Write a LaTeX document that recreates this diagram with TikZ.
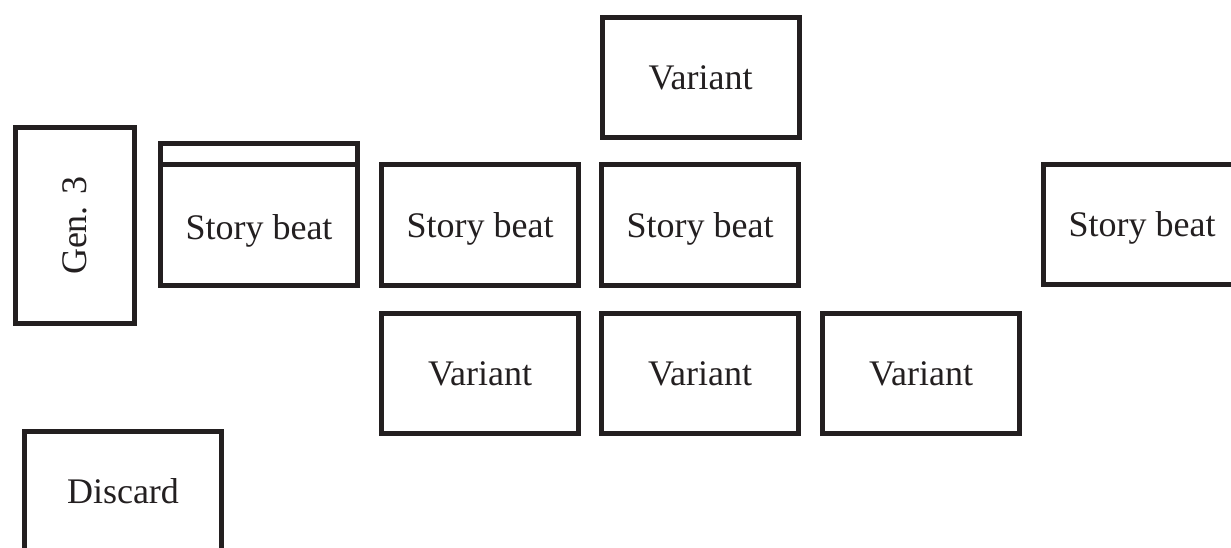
\documentclass[tikz,border=0pt]{standalone}
\usepackage{fontspec}
\setmainfont{Liberation Serif}
\definecolor{ink}{RGB}{35,31,32}
\begin{document}
\begin{tikzpicture}[x=1pt,y=-1pt,
  label text/.style={text=ink, font=\fontsize{36}{40}\selectfont, text depth=0pt},
  card/.style={draw=ink, line width=5pt, rectangle, inner sep=0pt,
    minimum width=197pt, minimum height=120pt, label text},
  tallcard/.style={card, minimum width=119pt, minimum height=196pt}]
\useasboundingbox (0,0) rectangle (1231,548);
\clip (0,0) rectangle (1231,548);

% generation label
\node[tallcard] (gen) at (75,225.5) {};
\node[rotate=90, label text, text depth=] (genlabel) at (gen.center) {Gen. 3};

% tabbed story beat
\node[card, minimum height=142pt] (sb1) at (259,214.5) {};
\draw[ink, line width=5pt] (sb1.west |- 0,165) -- (sb1.east |- 0,165);
\node[label text] (sb1label) at (259,227) {Story beat};

% middle row
\node[card] (sb2) at (480,225) {Story beat};
\node[card] (sb3) at (700,225) {Story beat};
\node[card] (sb4) at (1142,224.5) {Story beat};

% variants
\node[card] (vtop) at (700.5,77.5) {Variant};
\node[card] (v1) at (480,373.5) {Variant};
\node[card] (v2) at (700,373.5) {Variant};
\node[card] (v3) at (921,373.5) {Variant};

% discard pile
\node[card] (discard) at (123,491.5) {Discard};
\end{tikzpicture}
\end{document}
